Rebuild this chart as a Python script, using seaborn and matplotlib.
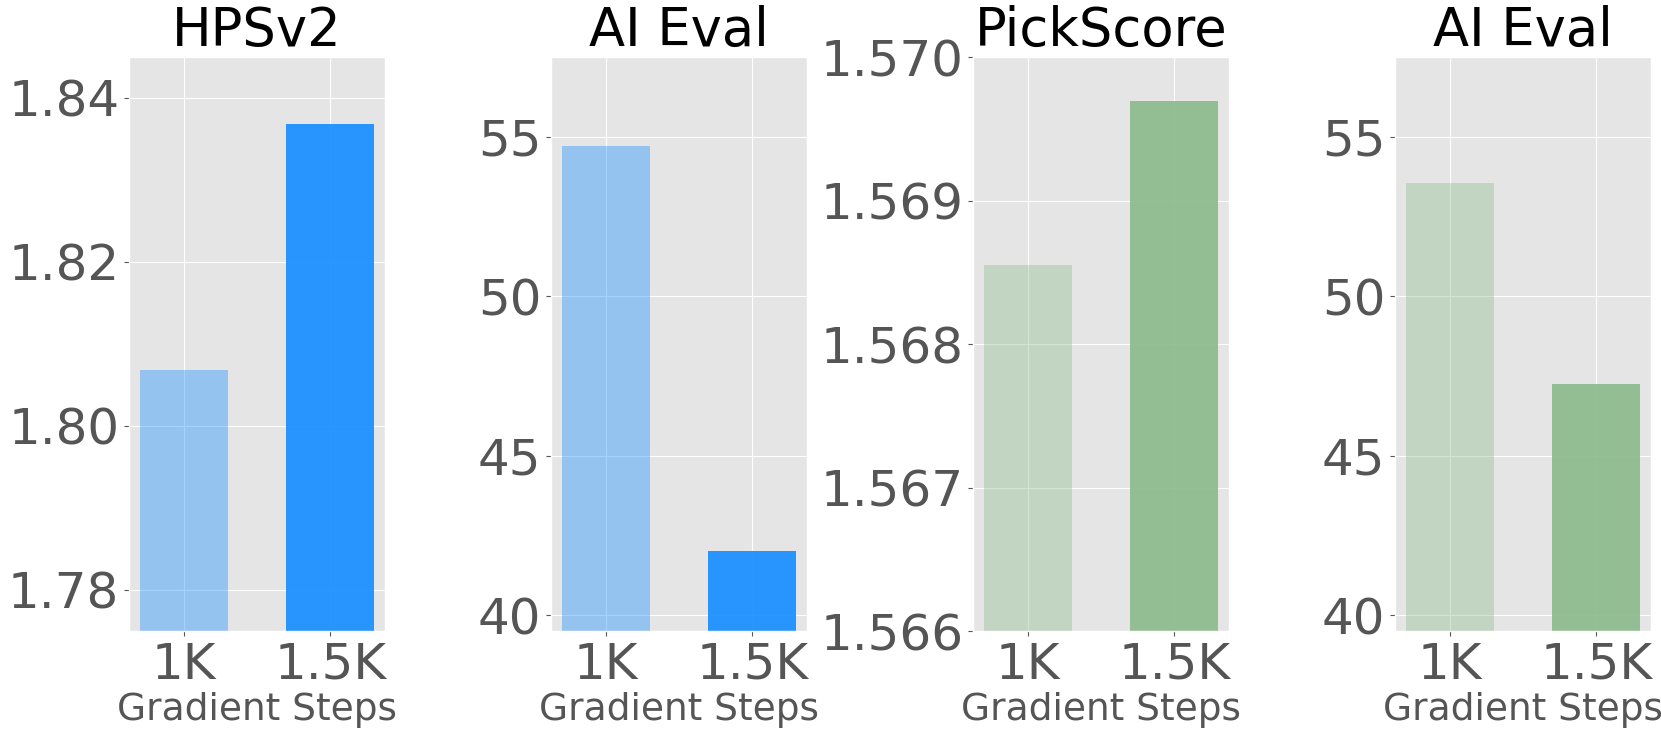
import pandas as pd
import matplotlib
matplotlib.use("Agg")
import matplotlib.pyplot as plt
import seaborn as sns

# values
steps = ["1K", "1.5K"]
hpsv2_scores = [1.8068, 1.8368]
ai_eval_blue = [54.7, 42.0]
pickscore_scores = [1.56855, 1.56969]
ai_eval_green = [53.55, 47.25]

titles = ["HPSv2", "AI Eval", "PickScore", "AI Eval"]
ylims = [(1.775, 1.845), (39.5, 57.5), (1.566, 1.570), (39.5, 57.5)]
yticks = [[1.78, 1.80, 1.82, 1.84], [40, 45, 50, 55],
          [1.566, 1.567, 1.568, 1.569, 1.570], [40, 45, 50, 55]]
tick_fmt = ["{:.2f}", "{:.0f}", "{:.3f}", "{:.0f}"]
base_colors = ["dodgerblue", "dodgerblue", "darkseagreen", "darkseagreen"]
alphas = [0.4, 0.95]

plt.style.use("ggplot")
plt.rcParams["font.family"] = ["DejaVu Sans"]

fig = plt.figure(figsize=(16.61, 7.38), dpi=100)
lefts = [129, 551, 973, 1395]
series = [hpsv2_scores, ai_eval_blue, pickscore_scores, ai_eval_green]

for i, vals in enumerate(series):
    ax = fig.add_axes([lefts[i] / 1661, 107 / 738, 256 / 1661, 574 / 738])
    df = pd.DataFrame({"step": steps, "score": vals})
    sns.barplot(data=df, x="step", y="score", hue="step",
                palette=[base_colors[i]] * 2, saturation=1, width=0.6,
                legend=False, ax=ax)
    for patch, a in zip(ax.patches, alphas):
        patch.set_alpha(a)
        patch.set_edgecolor("none")
    ax.set_xlim(-0.373, 1.373)
    ax.set_ylim(*ylims[i])
    ax.set_yticks(yticks[i])
    ax.set_yticklabels([tick_fmt[i].format(t) for t in yticks[i]])
    ax.xaxis.grid(True)
    ax.set_axisbelow(True)
    ax.tick_params(axis="both", labelsize=36, colors="#555555")
    ax.set_title(titles[i], fontsize=38, color="black", pad=5)
    ax.set_xlabel("Gradient Steps", fontsize=27, color="#555555", labelpad=2)
    ax.set_ylabel("")

plt.savefig("out.png", dpi=100)
